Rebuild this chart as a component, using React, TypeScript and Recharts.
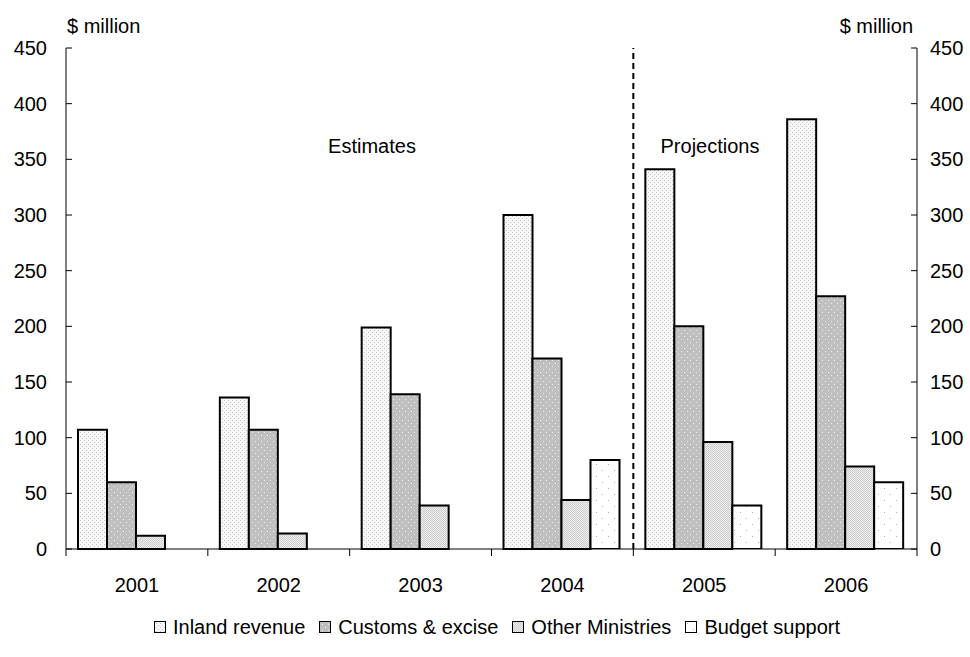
import { BarChart, Bar, XAxis, YAxis, ReferenceLine, Legend } from "recharts";

const years = ["2001", "2002", "2003", "2004", "2005", "2006"];
const inlandRevenue = [107, 136, 199, 300, 341, 386];
const customsExcise = [60, 107, 139, 171, 200, 227];
const otherMinistries = [12, 14, 39, 44, 96, 74];
const budgetSupport = [null, null, null, 80, 39, 60];
const yTicks = [0, 50, 100, 150, 200, 250, 300, 350, 400, 450];

const data = years.map((year, i) => ({
  year,
  inland: inlandRevenue[i],
  customs: customsExcise[i],
  other: otherMinistries[i],
  budget: budgetSupport[i],
}));

const FONT = "'Liberation Sans', Arial, sans-serif";
const FS = 20;

// the budget series sits on the right scale so that axis gets its ticks too
const series = [
  { key: "inland", name: "Inland revenue", fill: "url(#patInland)", axis: "left" },
  { key: "customs", name: "Customs & excise", fill: "url(#patCustoms)", axis: "left" },
  { key: "other", name: "Other Ministries", fill: "url(#patOther)", axis: "left" },
  { key: "budget", name: "Budget support", fill: "url(#patBudget)", axis: "right" },
];

// year label under each band, with tick marks on the band edges
const YearTick = (props: any) => {
  const { x, y, payload, index } = props;
  const off = payload.offset || 0;
  return (
    <g>
      <line x1={x - off} x2={x - off} y1={y} y2={y + 7} stroke="#000" />
      {index === years.length - 1 && (
        <line x1={x + off} x2={x + off} y1={y} y2={y + 7} stroke="#000" />
      )}
      <text x={x} y={y + 43} textAnchor="middle" fontSize={FS} fontFamily={FONT} fill="#000">
        {payload.value}
      </text>
    </g>
  );
};

const renderLegend = () => (
  <div
    style={{
      height: 20,
      display: "flex",
      justifyContent: "center",
      alignItems: "center",
      fontFamily: FONT,
      fontSize: FS,
      color: "#000",
      paddingLeft: 38,
      whiteSpace: "nowrap",
    }}
  >
    {series.map((s) => (
      <span key={s.key} style={{ display: "flex", alignItems: "center", marginRight: 14 }}>
        <svg width={12} height={12} style={{ marginRight: 7 }}>
          <rect x={0.5} y={0.5} width={11} height={11} fill={s.fill} stroke="#000" />
        </svg>
        {s.name}
      </span>
    ))}
  </div>
);

export default function App() {
  return (
    <div style={{ position: "absolute", left: 0, top: 0, width: 970, height: 657, background: "#fff" }}>
      <BarChart
        width={970}
        height={657}
        data={data}
        margin={{ top: 48, right: 0, left: 0, bottom: 20 }}
        barCategoryGap={12}
        barGap={0}
      >
        <defs>
          <pattern id="patInland" width={4} height={4} patternUnits="userSpaceOnUse">
            <rect width={4} height={4} fill="#f7f7f7" />
            <rect x={0} y={0} width={1} height={1} fill="#c4c4c4" />
            <rect x={2} y={2} width={1} height={1} fill="#c4c4c4" />
          </pattern>
          <pattern id="patCustoms" width={6} height={6} patternUnits="userSpaceOnUse">
            <rect width={6} height={6} fill="#c0c0c0" />
            <rect x={0} y={0} width={1} height={1} fill="#ececec" />
            <rect x={3} y={3} width={1} height={1} fill="#ececec" />
          </pattern>
          <pattern id="patOther" width={2} height={2} patternUnits="userSpaceOnUse">
            <rect width={2} height={2} fill="#ececec" />
            <rect x={0} y={0} width={1} height={1} fill="#cfcfcf" />
            <rect x={1} y={1} width={1} height={1} fill="#cfcfcf" />
          </pattern>
          <pattern id="patBudget" width={12} height={12} patternUnits="userSpaceOnUse">
            <rect width={12} height={12} fill="#ffffff" />
            <rect x={2} y={2} width={1} height={1} fill="#b0b0b0" />
            <rect x={8} y={8} width={1} height={1} fill="#b0b0b0" />
          </pattern>
        </defs>
        <XAxis
          dataKey="year"
          height={68}
          stroke="#000"
          tickLine={false}
          tickSize={0}
          tickMargin={0}
          tick={<YearTick />}
          interval={0}
        />
        <YAxis
          yAxisId="left"
          orientation="left"
          width={66}
          domain={[0, 450]}
          ticks={yTicks}
          interval={0}
          stroke="#000"
          tickSize={-6}
          tickMargin={25}
          tick={{ fill: "#000", fontSize: FS, fontFamily: FONT }}
        />
        <YAxis
          yAxisId="right"
          orientation="right"
          width={53}
          domain={[0, 450]}
          ticks={yTicks}
          interval={0}
          allowDataOverflow
          stroke="#000"
          tickSize={-6}
          tickMargin={19}
          tick={{ fill: "#000", fontSize: FS, fontFamily: FONT }}
        />
        <ReferenceLine
          yAxisId="left"
          x="2005"
          position="start"
          stroke="#000"
          strokeWidth={2}
          strokeDasharray="6 4"
        />
        {series.map((s) => (
          <Bar
            key={s.key}
            yAxisId={s.axis}
            dataKey={s.key}
            name={s.name}
            fill={s.fill}
            stroke="#000"
            strokeWidth={2}
            isAnimationActive={false}
          />
        ))}
        <Legend verticalAlign="bottom" content={renderLegend} />
        <text x={67} y={33} fontSize={FS} fontFamily={FONT} fill="#000">$ million</text>
        <text x={913} y={33} fontSize={FS} fontFamily={FONT} fill="#000" textAnchor="end">$ million</text>
        <text x={372} y={153} fontSize={FS} fontFamily={FONT} fill="#000" textAnchor="middle">Estimates</text>
        <text x={710} y={153} fontSize={FS} fontFamily={FONT} fill="#000" textAnchor="middle">Projections</text>
      </BarChart>
    </div>
  );
}
